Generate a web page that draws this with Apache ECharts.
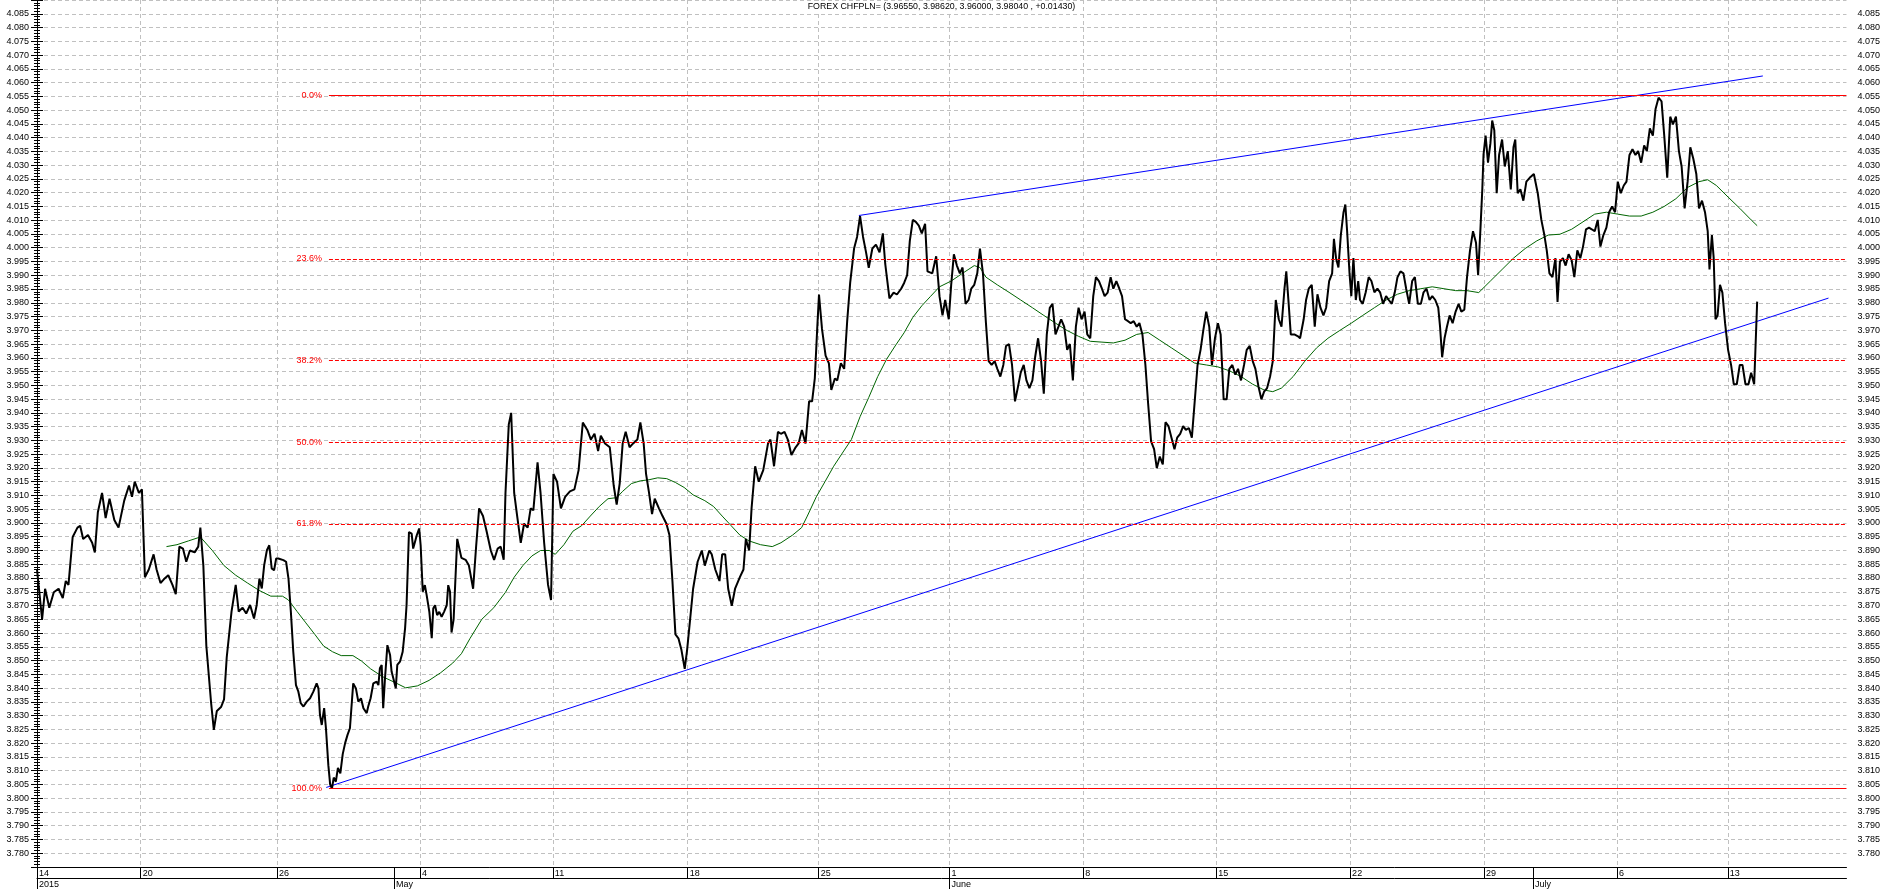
<!DOCTYPE html>
<html>
<head>
<meta charset="utf-8">
<title>FOREX CHFPLN=</title>
<script src="https://cdn.jsdelivr.net/npm/echarts@6/dist/echarts.min.js"></script>
<style>
    html, body { margin: 0; padding: 0; background: #fff; }
    #chart { width: 1883px; height: 889px; }
</style>
</head>
<body>
<div id="chart"></div>
<script>
// x = bar index of the intraday series, y = CHF/PLN rate
const xMax = 603.7
const yMin = 3.775
const yMax = 4.090

const titleText = 'FOREX CHFPLN= (3.96550, 3.98620, 3.96000, 3.98040 , +0.01430)'

// week starts (row 1) and months (row 2) under the plot
const weekTicks = [0, 34.6, 80.1, 127.8, 172.1, 217.1, 260.8, 304.4, 349.1, 393.4, 438.1, 482.8, 527.1, 564.1]
const weekLabels = ['14', '20', '26', '4', '11', '18', '25', '1', '8', '15', '22', '29', '6', '13']
const monthTicks = [0, 119.1, 304.4, 499.1]
const monthLabels = ['2015', 'May', 'June', 'July']

// fibonacci retracement between the April low and the July high
const fibStart = 97.4
const fibLevels = [4.0553, 3.9959, 3.9591, 3.9294, 3.8997, 3.8035]
const fibLabels = ['0.0%', '23.6%', '38.2%', '50.0%', '61.8%', '100.0%']

// trend channel
const upperTrend = [[274.2, 4.0117], [575.8, 4.0624]]
const lowerTrend = [[96.5, 3.8039], [597.7, 3.9817]]

// price
const price = [
    [0, 3.8831], [1.7, 3.8650], [2.7, 3.8761], [4.1, 3.8692], [5.6, 3.8748], [7.2, 3.8761], [8.6, 3.8727], [9.6, 3.8789],
    [10.5, 3.8775], [11.9, 3.8949], [13.5, 3.8983], [14.4, 3.8990], [15.4, 3.8942], [17.0, 3.8956], [18.4, 3.8928], [19.3, 3.8893],
    [20.3, 3.9039], [21.7, 3.9109], [22.9, 3.9018], [24.2, 3.9088], [25.8, 3.9011], [27.2, 3.8983], [29.1, 3.9081], [30.7, 3.9136],
    [31.7, 3.9095], [32.6, 3.9150], [34.0, 3.9109], [35.0, 3.9122], [36.0, 3.8803], [37.3, 3.8831], [38.9, 3.8886], [39.9, 3.8831],
    [41.2, 3.8782], [42.4, 3.8796], [43.8, 3.8810], [45.2, 3.8775], [46.3, 3.8741], [47.5, 3.8914], [48.7, 3.8907], [49.8, 3.8859],
    [51.0, 3.8900], [52.6, 3.8893], [53.8, 3.8914], [54.5, 3.8983], [55.5, 3.8845], [56.5, 3.8553], [58.1, 3.8345], [59.0, 3.8248],
    [60.0, 3.8317], [61.4, 3.8331], [62.4, 3.8359], [63.3, 3.8512], [64.9, 3.8678], [66.3, 3.8775], [67.3, 3.8678], [68.6, 3.8692],
    [69.8, 3.8671], [71.1, 3.8702], [72.4, 3.8653], [73.3, 3.8702], [74.2, 3.8798], [75.0, 3.8762], [75.8, 3.8847], [76.7, 3.8901],
    [77.5, 3.8919], [78.3, 3.8835], [79.1, 3.8828], [79.8, 3.8871], [80.5, 3.8871], [82.2, 3.8865], [83.1, 3.8859], [83.9, 3.8798],
    [84.7, 3.8677], [85.5, 3.8532], [86.4, 3.8411], [87.2, 3.8387], [88.0, 3.8345], [88.9, 3.8333], [90.0, 3.8351], [91.1, 3.8363],
    [92.2, 3.8387], [93.3, 3.8417], [93.9, 3.8399], [94.4, 3.8303], [95.0, 3.8266], [95.8, 3.8327], [96.4, 3.8254], [97.2, 3.8120],
    [97.8, 3.8050], [98.4, 3.8035], [99.0, 3.8075], [99.7, 3.8060], [100.4, 3.8110], [101.2, 3.8090], [102.0, 3.8160], [102.8, 3.8200],
    [103.6, 3.8230], [104.4, 3.8254], [105.5, 3.8417], [106.4, 3.8399], [107.2, 3.8351], [108.1, 3.8363], [108.9, 3.8327], [110.0, 3.8309],
    [110.5, 3.8333], [111.3, 3.8363], [112.2, 3.8417], [113.3, 3.8423], [113.9, 3.8411], [114.4, 3.8472], [115.0, 3.8484], [115.5, 3.8327],
    [116.1, 3.8435], [116.9, 3.8556], [117.8, 3.8520], [118.3, 3.8460], [118.9, 3.8435], [119.7, 3.8399], [120.2, 3.8484], [121.1, 3.8496],
    [122.0, 3.8532], [122.8, 3.8617], [123.3, 3.8702], [124.1, 3.8967], [125.0, 3.8961], [125.5, 3.8907], [126.1, 3.8931], [126.7, 3.8955],
    [127.5, 3.8980], [128.0, 3.8919], [128.7, 3.8750], [129.4, 3.8774], [130.0, 3.8738], [130.9, 3.8677], [131.7, 3.8581], [132.2, 3.8689],
    [132.8, 3.8701], [133.5, 3.8665], [134.2, 3.8677], [135.0, 3.8659], [135.8, 3.8677], [136.7, 3.8701], [137.2, 3.8774], [137.8, 3.8750],
    [138.3, 3.8602], [139.0, 3.8650], [140.2, 3.8942], [141.6, 3.8873], [143.0, 3.8866], [144.1, 3.8845], [145.5, 3.8761], [146.5, 3.8914],
    [147.5, 3.9053], [148.8, 3.9025], [150.0, 3.8970], [151.4, 3.8900], [152.5, 3.8866], [153.7, 3.8907], [154.7, 3.8914], [155.7, 3.8866],
    [156.3, 3.9109], [157.4, 3.9358], [158.2, 3.9400], [159.2, 3.9109], [160.2, 3.9025], [161.4, 3.8928], [162.5, 3.8997], [163.7, 3.8983],
    [164.7, 3.9053], [165.6, 3.9046], [167.0, 3.9220], [168.0, 3.9109], [169.2, 3.8928], [170.5, 3.8775], [171.5, 3.8720], [172.3, 3.9178],
    [173.5, 3.9150], [174.8, 3.9053], [176.2, 3.9095], [177.8, 3.9115], [179.3, 3.9122], [180.7, 3.9192], [182.1, 3.9365], [183.6, 3.9338],
    [184.8, 3.9303], [186.0, 3.9324], [187.2, 3.9261], [188.1, 3.9317], [189.5, 3.9289], [191.1, 3.9275], [192.4, 3.9136], [193.4, 3.9067],
    [194.4, 3.9143], [195.4, 3.9289], [196.4, 3.9331], [197.7, 3.9275], [198.9, 3.9289], [200.3, 3.9303], [201.3, 3.9365], [202.4, 3.9289],
    [203.2, 3.9178], [204.2, 3.9109], [205.2, 3.9032], [206.1, 3.9088], [207.5, 3.9053], [208.7, 3.9025], [210.0, 3.8997], [211.0, 3.8956],
    [212.0, 3.8789], [213.0, 3.8595], [214.0, 3.8581], [215.0, 3.8539], [216.1, 3.8470], [216.9, 3.8539], [217.9, 3.8650], [218.9, 3.8761],
    [220.4, 3.8859], [221.8, 3.8900], [222.8, 3.8845], [224.3, 3.8900], [225.1, 3.8886], [226.3, 3.8831], [227.7, 3.8789], [228.6, 3.8886],
    [229.6, 3.8886], [230.6, 3.8761], [231.8, 3.8699], [232.9, 3.8761], [234.5, 3.8803], [235.7, 3.8831], [236.5, 3.8942], [237.6, 3.8900],
    [238.4, 3.9053], [239.6, 3.9206], [240.8, 3.9150], [242.3, 3.9192], [243.9, 3.9289], [244.7, 3.9303], [245.9, 3.9206], [247.2, 3.9331],
    [248.2, 3.9324], [249.4, 3.9331], [250.5, 3.9303], [251.7, 3.9247], [253.1, 3.9275], [254.1, 3.9289], [255.2, 3.9338], [256.4, 3.9289],
    [257.6, 3.9442], [258.6, 3.9442], [259.5, 3.9525], [260.3, 3.9705], [260.9, 3.9830], [261.9, 3.9705], [263.1, 3.9608], [264.2, 3.9580],
    [265.0, 3.9483], [266.2, 3.9525], [267.0, 3.9518], [268.2, 3.9580], [269.3, 3.9560], [270.3, 3.9733], [271.3, 3.9872], [272.6, 3.9997],
    [273.6, 4.0039], [274.6, 4.0115], [275.6, 4.0039], [276.6, 3.9983], [277.5, 3.9927], [278.7, 3.9997], [279.9, 4.0011], [281.1, 3.9983],
    [282.2, 4.0052], [283.0, 3.9941], [284.4, 3.9816], [285.8, 3.9837], [286.9, 3.9830], [288.3, 3.9851], [289.3, 3.9872], [290.3, 3.9900],
    [291.2, 4.0025], [292.2, 4.0101], [293.2, 4.0094], [294.2, 4.0080], [295.2, 4.0052], [296.3, 4.0087], [297.1, 3.9914], [298.7, 3.9907],
    [300.0, 3.9969], [301.1, 3.9824], [302.1, 3.9754], [303.0, 3.9810], [304.2, 3.9740], [305.0, 3.9865], [305.9, 3.9976], [306.9, 3.9935],
    [307.9, 3.9907], [308.8, 3.9928], [309.8, 3.9796], [310.8, 3.9810], [311.7, 3.9851], [312.7, 3.9865], [313.7, 3.9907], [314.6, 3.9997],
    [315.6, 3.9907], [316.6, 3.9726], [317.5, 3.9588], [318.5, 3.9574], [319.5, 3.9588], [320.4, 3.9560], [321.4, 3.9532], [322.4, 3.9574],
    [323.3, 3.9643], [324.3, 3.9650], [325.3, 3.9574], [326.3, 3.9442], [327.2, 3.9490], [328.2, 3.9546], [329.2, 3.9574], [330.1, 3.9518],
    [331.1, 3.9490], [332.1, 3.9518], [333.0, 3.9602], [334.0, 3.9671], [335.0, 3.9588], [335.9, 3.9470], [336.9, 3.9685], [337.9, 3.9782],
    [338.8, 3.9796], [339.8, 3.9685], [340.8, 3.9713], [341.7, 3.9740], [342.7, 3.9713], [343.7, 3.9629], [344.6, 3.9650], [345.6, 3.9518],
    [346.6, 3.9713], [347.5, 3.9782], [348.5, 3.9740], [349.5, 3.9768], [350.4, 3.9685], [351.4, 3.9671], [352.4, 3.9824], [353.3, 3.9893],
    [354.3, 3.9879], [355.3, 3.9851], [356.2, 3.9824], [357.2, 3.9837], [358.2, 3.9893], [359.1, 3.9851], [360.1, 3.9879], [361.1, 3.9851],
    [362.0, 3.9824], [363.0, 3.9740], [364.0, 3.9733], [364.9, 3.9726], [365.9, 3.9733], [366.9, 3.9713], [367.8, 3.9726], [368.8, 3.9685],
    [369.8, 3.9574], [370.7, 3.9435], [371.7, 3.9296], [372.7, 3.9268], [373.6, 3.9199], [374.6, 3.9241], [375.6, 3.9213], [376.5, 3.9366],
    [377.5, 3.9352], [378.5, 3.9310], [379.5, 3.9268], [380.4, 3.9310], [381.4, 3.9324], [382.4, 3.9352], [383.3, 3.9338], [384.3, 3.9345],
    [385.3, 3.9310], [386.2, 3.9435], [387.2, 3.9574], [388.2, 3.9629], [389.1, 3.9699], [390.1, 3.9768], [391.1, 3.9713], [392.0, 3.9574],
    [393.0, 3.9671], [394.0, 3.9726], [394.9, 3.9685], [395.9, 3.9449], [396.9, 3.9449], [397.8, 3.9560], [398.8, 3.9574], [399.8, 3.9539],
    [400.7, 3.9560], [401.7, 3.9518], [402.7, 3.9574], [403.6, 3.9629], [404.6, 3.9643], [405.6, 3.9588], [406.5, 3.9560], [407.5, 3.9497],
    [408.5, 3.9449], [409.4, 3.9477], [410.4, 3.9490], [411.4, 3.9532], [412.3, 3.9588], [413.3, 3.9810], [414.3, 3.9740], [415.2, 3.9713],
    [416.2, 3.9851], [416.8, 3.9914], [417.6, 3.9796], [418.3, 3.9685], [419.5, 3.9685], [420.7, 3.9678], [421.4, 3.9671], [422.6, 3.9740],
    [423.4, 3.9810], [424.3, 3.9851], [425.3, 3.9865], [426.3, 3.9713], [427.2, 3.9831], [428.2, 3.9782], [429.2, 3.9754], [430.1, 3.9782],
    [431.1, 3.9879], [432.1, 3.9907], [432.7, 4.0032], [433.4, 3.9962], [434.2, 3.9928], [435.0, 4.0046], [435.9, 4.0129], [436.5, 4.0157],
    [437.1, 4.0060], [437.9, 3.9907], [438.5, 3.9824], [439.2, 3.9962], [440.0, 3.9810], [440.8, 3.9879], [441.4, 3.9810], [442.3, 3.9796],
    [443.3, 3.9838], [444.3, 3.9893], [445.2, 3.9879], [446.2, 3.9838], [447.2, 3.9851], [448.1, 3.9838], [449.1, 3.9796], [450.1, 3.9824],
    [451.0, 3.9810], [452.0, 3.9796], [453.0, 3.9838], [453.9, 3.9893], [454.9, 3.9914], [455.9, 3.9907], [456.8, 3.9851], [457.8, 3.9796],
    [458.8, 3.9879], [459.7, 3.9893], [460.7, 3.9796], [461.7, 3.9796], [462.6, 3.9838], [463.6, 3.9851], [464.6, 3.9810], [465.5, 3.9824],
    [466.5, 3.9810], [467.5, 3.9782], [468.1, 3.9713], [468.8, 3.9602], [469.6, 3.9671], [470.4, 3.9713], [471.3, 3.9754], [472.3, 3.9726],
    [473.3, 3.9768], [474.3, 3.9796], [475.2, 3.9768], [476.2, 3.9775], [477.1, 3.9893], [478.1, 3.9990], [479.1, 4.0060], [480.1, 4.0018],
    [480.8, 3.9900], [481.6, 4.0073], [482.2, 4.0212], [482.6, 4.0337], [483.3, 4.0407], [484.1, 4.0309], [484.9, 4.0379], [485.5, 4.0462],
    [486.2, 4.0427], [487.0, 4.0198], [487.8, 4.0337], [488.8, 4.0393], [489.7, 4.0295], [490.7, 4.0351], [491.7, 4.0212], [492.6, 4.0365],
    [493.2, 4.0393], [494.0, 4.0198], [494.9, 4.0212], [495.9, 4.0171], [496.9, 4.0240], [498.0, 4.0254], [499.4, 4.0268], [500.7, 4.0198],
    [501.9, 4.0101], [502.9, 4.0046], [503.7, 3.9990], [504.6, 3.9907], [505.6, 3.9893], [506.6, 3.9962], [507.3, 3.9803], [508.1, 3.9949],
    [509.1, 3.9962], [510.0, 3.9935], [511.0, 3.9976], [512.0, 3.9955], [512.9, 3.9893], [513.9, 3.9990], [514.9, 3.9962], [515.8, 4.0004],
    [516.8, 4.0067], [517.8, 4.0073], [518.7, 4.0067], [519.7, 4.0060], [520.7, 4.0101], [521.6, 4.0004], [522.6, 4.0046], [523.6, 4.0073],
    [524.5, 4.0129], [525.5, 4.0150], [526.5, 4.0129], [527.4, 4.0240], [528.4, 4.0198], [529.4, 4.0226], [530.3, 4.0240], [531.3, 4.0337],
    [532.3, 4.0358], [533.3, 4.0337], [534.2, 4.0351], [535.2, 4.0309], [536.2, 4.0372], [537.1, 4.0351], [538.1, 4.0434], [539.1, 4.0407],
    [540.0, 4.0504], [541.0, 4.0545], [542.0, 4.0532], [542.9, 4.0407], [543.9, 4.0254], [544.9, 4.0476], [545.8, 4.0448], [546.8, 4.0476],
    [547.8, 4.0351], [548.7, 4.0295], [549.7, 4.0143], [550.7, 4.0240], [551.6, 4.0365], [552.6, 4.0323], [553.6, 4.0268], [554.5, 4.0143],
    [555.5, 4.0171], [556.5, 4.0129], [557.4, 4.0060], [558.0, 3.9921], [558.8, 4.0046], [559.4, 3.9962], [560.0, 3.9740], [560.7, 3.9754],
    [561.5, 3.9865], [562.3, 3.9837], [563.2, 3.9726], [564.2, 3.9629], [565.2, 3.9574], [566.1, 3.9504], [567.1, 3.9504], [568.1, 3.9574],
    [569.0, 3.9574], [570.0, 3.9504], [571.0, 3.9504], [571.9, 3.9546], [572.9, 3.9504], [573.9, 3.9804]
]

// moving average (green)
const movingAvg = [
    [43.2, 3.8914], [46.7, 3.8921], [50.6, 3.8935], [54.5, 3.8949], [58.5, 3.8900], [62.4, 3.8845], [66.3, 3.8810], [70.2, 3.8782],
    [74.1, 3.8755], [78.0, 3.8734], [81.9, 3.8734], [83.9, 3.8720], [86.8, 3.8678], [89.7, 3.8637], [92.7, 3.8595], [95.6, 3.8553],
    [98.6, 3.8532], [101.5, 3.8518], [105.4, 3.8518], [108.3, 3.8498], [111.3, 3.8470], [115.2, 3.8442], [119.1, 3.8422], [123.0, 3.8401],
    [126.9, 3.8408], [130.8, 3.8428], [134.7, 3.8456], [138.7, 3.8491], [141.6, 3.8525], [144.5, 3.8581], [148.4, 3.8650], [152.4, 3.8692],
    [156.3, 3.8748], [159.2, 3.8803], [162.1, 3.8845], [165.1, 3.8880], [168.0, 3.8900], [170.9, 3.8900], [172.9, 3.8886], [175.8, 3.8921],
    [178.8, 3.8970], [181.7, 3.8990], [184.6, 3.9025], [187.6, 3.9060], [190.5, 3.9088], [193.4, 3.9092], [195.4, 3.9115], [198.3, 3.9143],
    [201.3, 3.9153], [204.2, 3.9157], [207.1, 3.9164], [210.1, 3.9161], [213.0, 3.9147], [215.9, 3.9129], [218.9, 3.9102], [222.8, 3.9081],
    [225.7, 3.9060], [228.6, 3.9025], [231.6, 3.8990], [234.5, 3.8956], [237.5, 3.8935], [241.4, 3.8921], [245.3, 3.8914], [248.2, 3.8928],
    [252.1, 3.8956], [255.1, 3.8983], [257.0, 3.9025], [260.0, 3.9095], [262.9, 3.9150], [265.8, 3.9206], [268.7, 3.9254], [271.7, 3.9303],
    [274.6, 3.9386], [277.5, 3.9456], [280.5, 3.9532], [283.4, 3.9594], [286.3, 3.9643], [289.3, 3.9691], [292.2, 3.9747], [295.2, 3.9789],
    [298.1, 3.9823], [301.1, 3.9858], [305.0, 3.9879], [308.8, 3.9907], [312.7, 3.9935], [314.6, 3.9928], [316.6, 3.9893], [320.4, 3.9865],
    [324.3, 3.9838], [328.2, 3.9810], [332.1, 3.9782], [335.9, 3.9754], [339.8, 3.9726], [343.7, 3.9699], [347.5, 3.9678], [351.4, 3.9660],
    [355.3, 3.9657], [359.1, 3.9654], [363.0, 3.9664], [366.9, 3.9685], [370.7, 3.9692], [374.6, 3.9664], [378.5, 3.9636], [382.4, 3.9608],
    [386.2, 3.9581], [390.1, 3.9574], [394.0, 3.9567], [397.8, 3.9553], [401.7, 3.9532], [405.6, 3.9504], [409.4, 3.9483], [412.3, 3.9477],
    [415.2, 3.9490], [419.1, 3.9532], [423.0, 3.9588], [426.9, 3.9636], [430.7, 3.9671], [434.6, 3.9699], [438.5, 3.9726], [442.3, 3.9754],
    [446.2, 3.9782], [450.1, 3.9810], [453.9, 3.9831], [457.8, 3.9844], [461.7, 3.9851], [465.5, 3.9858], [469.4, 3.9851], [473.3, 3.9844],
    [477.1, 3.9844], [481.0, 3.9837], [484.9, 3.9879], [488.8, 3.9921], [492.6, 3.9962], [496.5, 3.9997], [500.4, 4.0025], [504.2, 4.0046],
    [508.1, 4.0049], [512.0, 4.0067], [515.8, 4.0094], [519.7, 4.0122], [523.6, 4.0129], [527.4, 4.0122], [531.3, 4.0115], [535.2, 4.0115],
    [539.1, 4.0129], [542.9, 4.0150], [546.8, 4.0178], [550.7, 4.0219], [554.5, 4.0240], [557.4, 4.0247], [560.3, 4.0226], [564.2, 4.0184],
    [568.1, 4.0143], [571.9, 4.0101], [573.9, 4.0080]
]

const FONT = '"Liberation Sans", Arial, sans-serif'
const chart = echarts.init(document.getElementById('chart'))

// 灰色虚线网格
const gridLine = {
    show: true,
    lineStyle: { color: '#c0c0c0', width: 1, type: [4, 3] }
}
const blackLine = { color: '#000', width: 1 }

chart.setOption({
    animation: false,
    backgroundColor: '#fff',
    title: {
        text: titleText,
        left: 'center',
        top: 1,
        padding: [1, 2],
        backgroundColor: '#fff',
        textStyle: { fontSize: 8.8, fontWeight: 'normal', color: '#000', fontFamily: FONT }
    },
    grid: { left: 37, top: 0, width: 1811, height: 869 },
    xAxis: [
        {
            type: 'value', min: 0, max: xMax, position: 'bottom',
            axisLine: { show: true, lineStyle: blackLine },
            axisTick: { show: true, customValues: weekTicks, length: 11, lineStyle: blackLine },
            axisLabel: {
                customValues: weekTicks,
                formatter: v => weekLabels[weekTicks.indexOf(v)],
                align: 'left', margin: 2, padding: [0, 0, 0, 2],
                fontSize: 9, color: '#000', fontFamily: FONT
            },
            splitLine: gridLine
        },
        {
            type: 'value', min: 0, max: xMax, position: 'bottom',
            axisLine: { show: false },
            axisTick: { show: true, customValues: monthTicks, length: 22, lineStyle: blackLine },
            axisLabel: {
                customValues: monthTicks,
                formatter: v => monthLabels[monthTicks.indexOf(v)],
                align: 'left', margin: 13, padding: [0, 0, 0, 2],
                fontSize: 9, color: '#000', fontFamily: FONT
            },
            splitLine: { show: false }
        },
        {
            // line between the week row and the month row
            type: 'value', min: 0, max: xMax, position: 'bottom', offset: 11,
            axisLine: { show: true, lineStyle: blackLine },
            axisTick: { show: false },
            axisLabel: { show: false },
            splitLine: { show: false }
        }
    ],
    yAxis: [
        {
            type: 'value', position: 'left', min: yMin, max: yMax, interval: 0.005,
            axisLine: { show: true, lineStyle: blackLine },
            axisTick: { show: true, length: 6, lineStyle: blackLine },
            minorTick: { show: true, splitNumber: 5, length: 3, lineStyle: blackLine },
            axisLabel: {
                formatter: v => v.toFixed(3), margin: 8,
                showMinLabel: false, showMaxLabel: false,
                fontSize: 9, color: '#000', fontFamily: FONT
            },
            splitLine: gridLine
        },
        {
            type: 'value', position: 'right', min: yMin, max: yMax, interval: 0.005,
            axisLine: { show: true, lineStyle: blackLine },
            axisTick: { show: true, length: 6, lineStyle: blackLine },
            minorTick: { show: true, splitNumber: 5, length: 3, lineStyle: blackLine },
            axisLabel: {
                formatter: v => v.toFixed(3), margin: 11,
                showMinLabel: false, showMaxLabel: false,
                fontSize: 9, color: '#000', fontFamily: FONT
            },
            splitLine: { show: false }
        }
    ],
    series: [
        {
            name: 'MA',
            type: 'line',
            data: movingAvg,
            showSymbol: false,
            lineStyle: { color: '#006400', width: 1 },
            z: 3
        },
        {
            name: 'upper',
            type: 'line',
            data: upperTrend,
            showSymbol: false,
            lineStyle: { color: '#0000ff', width: 1 },
            z: 3
        },
        {
            name: 'lower',
            type: 'line',
            data: lowerTrend,
            showSymbol: false,
            lineStyle: { color: '#0000ff', width: 1 },
            z: 3
        },
        {
            name: 'CHFPLN',
            type: 'line',
            data: price,
            showSymbol: false,
            lineStyle: { color: '#000', width: 2 },
            z: 4,
            // 斐波那契回撤线
            markLine: {
                silent: true,
                symbol: 'none',
                data: fibLevels.map((lvl, k) => [
                    {
                        coord: [fibStart, lvl],
                        lineStyle: {
                            color: '#ff0000', width: 1,
                            type: (k === 0 || k === fibLevels.length - 1) ? 'solid' : [4, 2]
                        },
                        label: {
                            show: true, position: 'start', distance: 7,
                            formatter: fibLabels[k],
                            color: '#ff0000', fontSize: 9, fontFamily: FONT
                        }
                    },
                    { coord: [xMax, lvl] }
                ])
            }
        }
    ]
})

window.addEventListener('resize', () => {
    chart.resize()
})
</script>
</body>
</html>
